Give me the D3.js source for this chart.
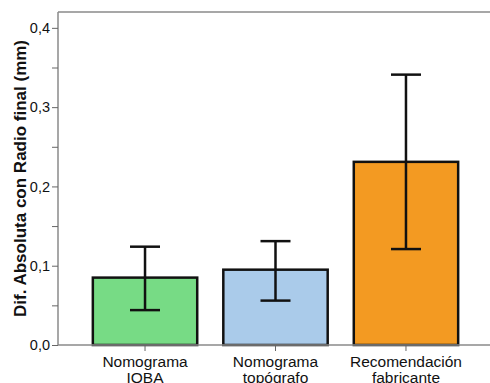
<!DOCTYPE html>
<html>
<head>
<meta charset="utf-8">
<script src="https://cdn.jsdelivr.net/npm/d3@7"></script>
<style>
  body { margin: 0; background: #fff; }
  svg { display: block; font-family: Arial, "Liberation Sans", sans-serif; }
</style>
</head>
<body>
<svg id="chart" width="490" height="383"></svg>
<script>
// data
const categories = [["Nomograma", "IOBA"], ["Nomograma", "topógrafo"], ["Recomendación", "fabricante"]];
const means = [0.085, 0.095, 0.231];
const lowerCI = [0.044, 0.056, 0.121];
const upperCI = [0.124, 0.131, 0.341];
const barColors = ["#77db85", "#aacbea", "#f39a22"];
const yTicks = [0, 0.1, 0.2, 0.3, 0.4];
const yTickLabels = ["0,0", "0,1", "0,2", "0,3", "0,4"];
const yTitle = "Dif. Absoluta con Radio final (mm)";

const margin = { top: 12, left: 58, bottom: 38 };
const W = 490, H = 383;

const svg = d3.select("#chart");

const y = d3.scaleLinear().domain([0, 0.42]).range([H - margin.bottom, margin.top]);
const x = d3.scaleBand()
    .domain(d3.range(categories.length))
    .range([margin.left, W + 3])
    .paddingInner(0.2)
    .paddingOuter(0.267);

const frame = "#8a8a8a";

// frame: top line
svg.append("line").attr("x1", margin.left).attr("x2", W).attr("y1", y(0.42)).attr("y2", y(0.42))
    .attr("stroke", frame).attr("stroke-width", 1.5);

// y axis
const yAxis = d3.axisLeft(y)
    .tickValues(d3.range(0, 0.41, 0.05))
    .tickSize(6)
    .tickFormat(d => {
        let i = yTicks.findIndex(t => Math.abs(t - d) < 1e-6);
        return i >= 0 ? yTickLabels[i] : "";
    });
const gy = svg.append("g").attr("transform", `translate(${margin.left},0)`).call(yAxis);
gy.attr("font-size", null).attr("font-family", null);
gy.select(".domain").attr("stroke", frame).attr("stroke-width", 1.5)
    .attr("d", `M0,${y(0.42)}V${y(0)}`);
gy.selectAll(".tick line").attr("stroke", "#666");
gy.selectAll(".tick text").attr("font-size", 14.5).attr("fill", "#111").attr("x", -8);

// y title
svg.append("text")
    .attr("transform", `translate(26,${(y(0) + y(0.42)) / 2}) rotate(-90)`)
    .attr("text-anchor", "middle")
    .attr("font-size", 17)
    .attr("font-weight", "bold")
    .attr("fill", "#111")
    .text(yTitle);

// bars
svg.selectAll(".bar").data(means).join("rect")
    .attr("class", "bar")
    .attr("x", (d, i) => x(i))
    .attr("width", x.bandwidth())
    .attr("y", d => y(d))
    .attr("height", d => y(0) - y(d))
    .attr("fill", (d, i) => barColors[i])
    .attr("stroke", "#111")
    .attr("stroke-width", 2.5);

// x axis
const gx = svg.append("g").attr("transform", `translate(0,${y(0)})`)
    .call(d3.axisBottom(x).tickSize(6).tickFormat(""));
gx.attr("font-size", null).attr("font-family", null);
gx.select(".domain").attr("stroke", frame).attr("stroke-width", 1.5)
    .attr("d", `M${margin.left},0H${W}`);
gx.selectAll(".tick line").attr("stroke", "#666");
gx.selectAll(".tick").each(function (d) {
    d3.select(this).append("text")
        .attr("text-anchor", "middle")
        .attr("fill", "#111")
        .attr("font-size", 15.5)
        .selectAll("tspan").data(categories[d]).join("tspan")
        .attr("x", 0)
        .attr("y", (t, j) => 22 + j * 15.5)
        .text(t => t);
});

// error bars
const cap = 15;
const eb = svg.selectAll(".err").data(means).join("g").attr("class", "err")
    .attr("stroke", "#111").attr("stroke-width", 2.5);
eb.append("line")
    .attr("x1", (d, i) => x(i) + x.bandwidth() / 2).attr("x2", (d, i) => x(i) + x.bandwidth() / 2)
    .attr("y1", (d, i) => y(upperCI[i])).attr("y2", (d, i) => y(lowerCI[i]));
eb.append("line")
    .attr("x1", (d, i) => x(i) + x.bandwidth() / 2 - cap).attr("x2", (d, i) => x(i) + x.bandwidth() / 2 + cap)
    .attr("y1", (d, i) => y(upperCI[i])).attr("y2", (d, i) => y(upperCI[i]));
eb.append("line")
    .attr("x1", (d, i) => x(i) + x.bandwidth() / 2 - cap).attr("x2", (d, i) => x(i) + x.bandwidth() / 2 + cap)
    .attr("y1", (d, i) => y(lowerCI[i])).attr("y2", (d, i) => y(lowerCI[i]));
</script>
</body>
</html>
